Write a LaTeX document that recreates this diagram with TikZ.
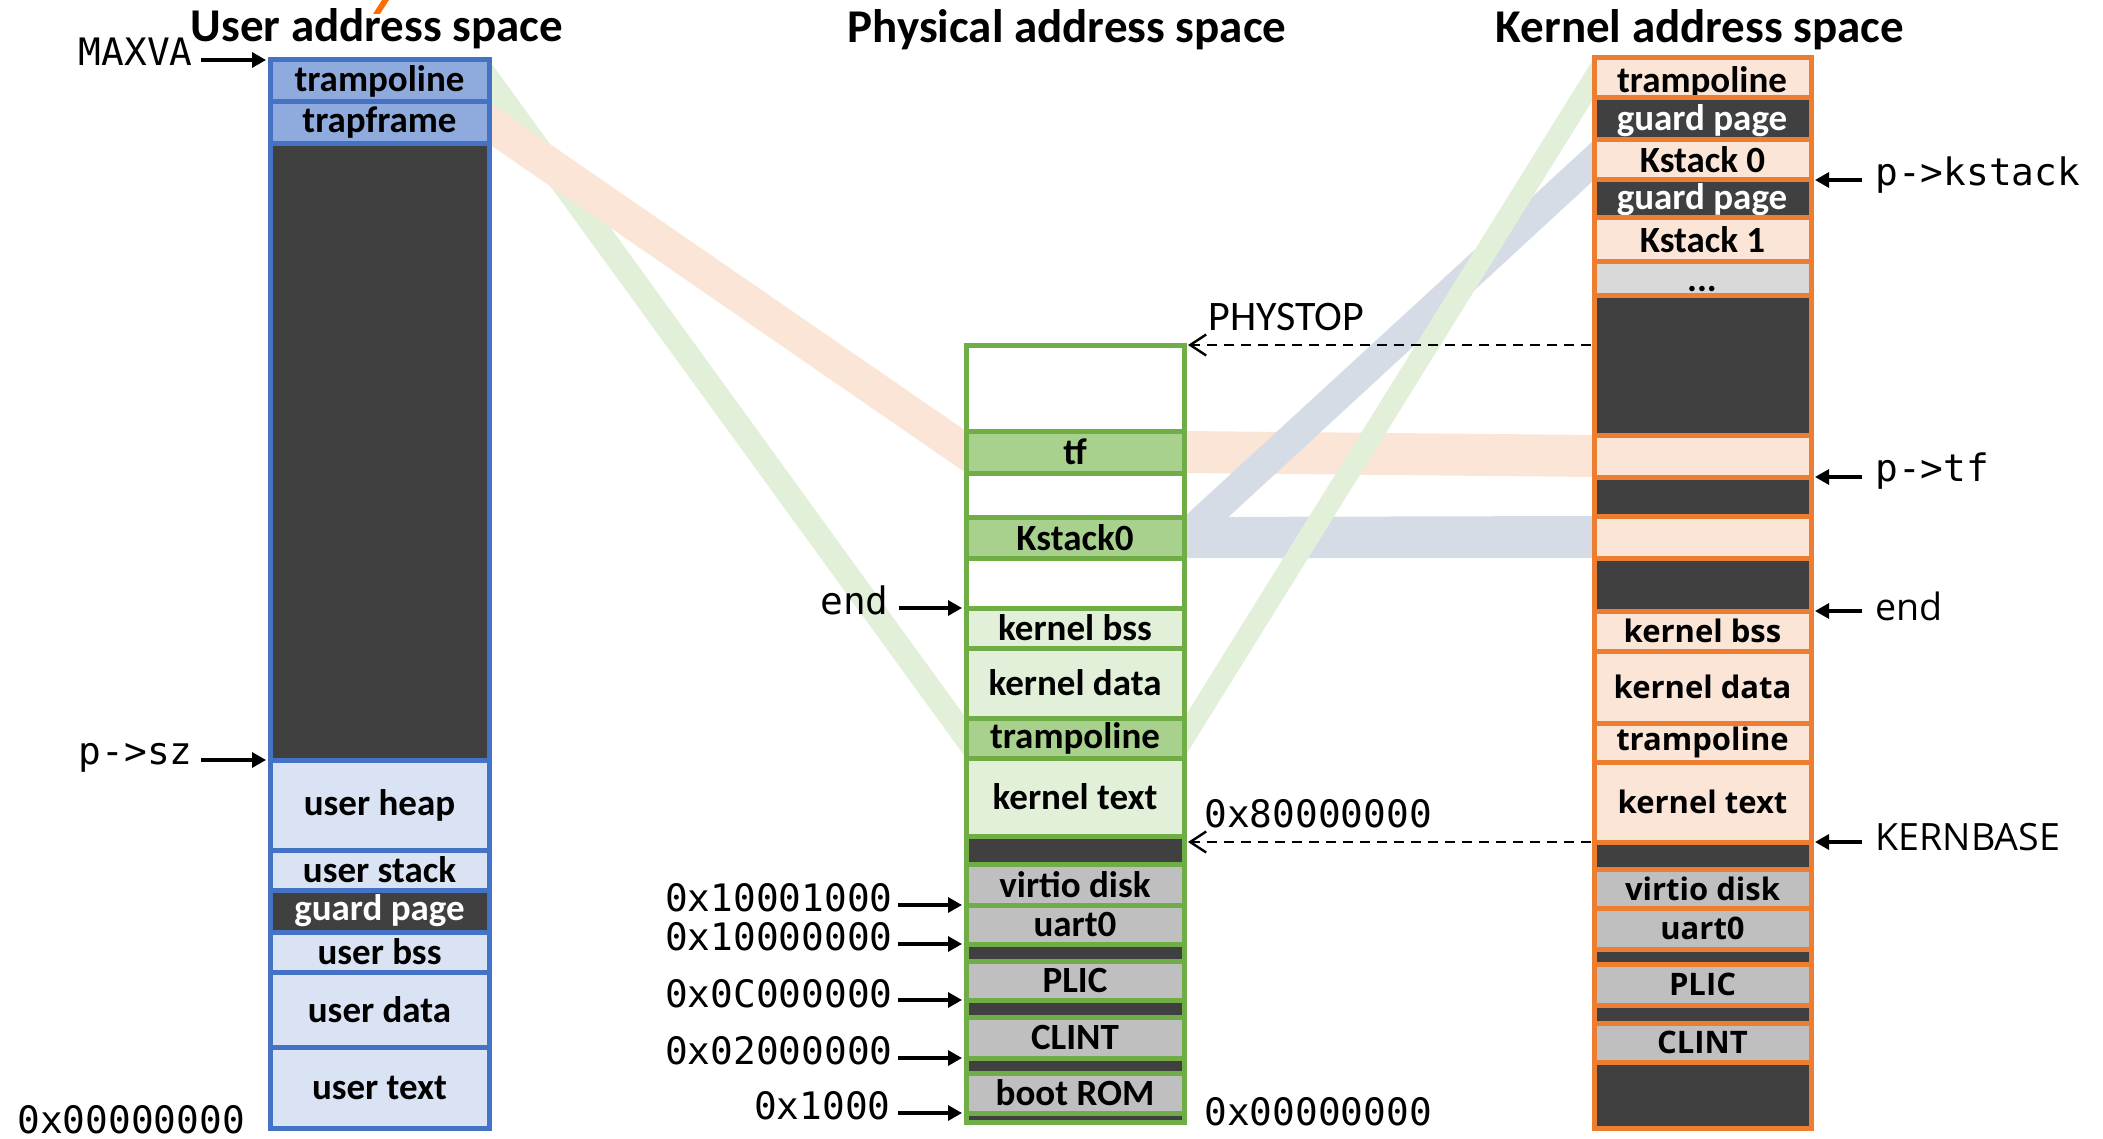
\documentclass[tikz,border=0pt]{standalone}
\usepackage{fontspec}
\setmainfont{Carlito}
\newfontfamily\fOpen{Open Sans}
\newfontfamily\fMono{DejaVu Sans Mono}
\usetikzlibrary{arrows.meta}
\pgfdeclarelayer{bg}
\pgfsetlayers{bg,main}
\definecolor{ublue}{HTML}{4472C4}
\definecolor{umid}{HTML}{8FAADC}
\definecolor{ulight}{HTML}{DAE3F3}
\definecolor{dark}{HTML}{404040}
\definecolor{pgreen}{HTML}{70AD47}
\definecolor{pmid}{HTML}{A9D18E}
\definecolor{plight}{HTML}{E2F0D9}
\definecolor{korange}{HTML}{ED7D31}
\definecolor{klight}{HTML}{FBE5D6}
\definecolor{gry}{HTML}{BFBFBF}
\definecolor{lgry}{HTML}{D9D9D9}
\definecolor{bandg}{HTML}{E2F0D9}
\definecolor{bando}{HTML}{FBE5D6}
\definecolor{bandb}{HTML}{D6DCE5}
\definecolor{markc}{HTML}{FA6E0A}
\newcommand\cellfnt{\fontsize{18.5pt}{20pt}\selectfont\bfseries}
\newcommand\kfnt{\fOpen\fontsize{15.5pt}{17pt}\selectfont\bfseries}
\newcommand\monofnt{\fMono\fontsize{18.9pt}{20pt}\selectfont}
\newcommand\openfnt{\fOpen\fontsize{18.8pt}{20pt}\selectfont}
\newcommand\titlefnt{\fontsize{23.5pt}{26pt}\selectfont\bfseries}
\newcommand\mcell[7]{%
 \pgfmathsetmacro\mcx{(#2+#3)/2}%
 \pgfmathsetmacro\mcy{(#4+#5)/2}%
 \pgfmathsetmacro\mcw{(#3-#2)*0.5}%
 \pgfmathsetmacro\mch{(#5-#4)*0.5}%
 \node[#6, minimum width=\mcw pt, minimum height=\mch pt] (#1) at (\mcx,\mcy) {#7};}
\newcommand\ucell[5]{\mcell{#1}{270}{489}{#2}{#3}{ucellst,#4}{#5}}
\newcommand\pcell[5]{\mcell{#1}{966}{1184}{#2}{#3}{pcellst,#4}{#5}}
\newcommand\kcell[5]{\mcell{#1}{1594}{1811}{#2}{#3}{kcellst,#4}{#5}}
\tikzset{
 cellbase/.style={inner sep=0pt, outer sep=0pt, line width=2.5pt, font=\cellfnt, text=black},
 ucellst/.style={cellbase, draw=ublue},
 pcellst/.style={cellbase, draw=pgreen},
 kcellst/.style={cellbase, draw=korange},
 osb/.style={font=\kfnt},
 mlab/.style={font=\monofnt, inner sep=0pt},
 olab/.style={font=\openfnt, inner sep=0pt},
 ttl/.style={font=\titlefnt, inner sep=0pt},
 ctext/.style={font=\cellfnt, inner sep=0pt, anchor=base},
 arr/.style={-{Triangle[length=7pt,width=7.5pt]}, line width=1.6pt},
 dasharr/.style={-{Straight Barb[length=8pt,width=10.5pt]}, line width=1.2pt, dash pattern=on 5pt off 3.5pt},
}
\begin{document}
\begin{tikzpicture}[x=0.5pt,y=-0.5pt]
\useasboundingbox (0,0) rectangle (2103,1139);
% titles
\node[ttl, anchor=base] (tuser) at (377,42) {User address space};
\node[ttl, anchor=base] (tphys) at (1067,43) {Physical address space};
\node[ttl, anchor=base] (tkern) at (1700,43) {Kernel address space};
\fill[markc] (382,0) -- (389,0) -- (380,14) -- (373,14) -- cycle;
% user column
\ucell{utramp}{60}{102}{fill=umid}{trampoline}
\ucell{utrapf}{102}{144}{fill=umid}{trapframe}
\ucell{ufree}{144}{760}{fill=dark}{}
\ucell{uheap}{760}{850}{fill=ulight}{user heap}
\ucell{ustack}{850}{890}{fill=ulight}{user stack}
\ucell{uguard}{890}{932}{fill=dark,text=white}{guard page}
\ucell{ubss}{932}{972}{fill=ulight}{user bss}
\ucell{udata}{972}{1047}{fill=ulight}{user data}
\ucell{utext}{1047}{1128}{fill=ulight}{user text}
% physical column
\pcell{pfree1}{345}{431}{fill=white}{}
\pcell{ptf}{431}{473}{fill=pmid}{tf}
\pcell{pfree2}{473}{517}{fill=white}{}
\pcell{pks}{517}{558}{fill=pmid}{Kstack0}
\pcell{pfree3}{558}{608}{fill=white}{}
\pcell{pbss}{608}{648}{fill=plight}{kernel bss}
\pcell{pdata}{648}{718}{fill=plight}{kernel data}
\pcell{ptramp}{718}{758}{fill=pmid}{trampoline}
\pcell{ptext}{758}{836}{fill=plight}{kernel text}
\pcell{pgap1}{836}{864}{fill=dark}{}
\pcell{pvirtio}{864}{905}{fill=gry}{virtio disk}
\pcell{puart}{905}{944}{fill=gry}{uart0}
\pcell{pgap2}{944}{961}{fill=dark}{}
\pcell{pplic}{961}{1000}{fill=gry}{PLIC}
\pcell{pgap3}{1000}{1017}{fill=dark}{}
\pcell{pclint}{1017}{1058}{fill=gry}{CLINT}
\pcell{pgap4}{1058}{1073}{fill=dark}{}
\pcell{pboot}{1073}{1113}{fill=gry}{boot ROM}
\pcell{pgap5}{1113}{1122}{fill=dark}{}
% kernel column
\kcell{ktrampT}{58}{98}{fill=klight}{}
\node[ctext] (ktrampTt) at (1702,93) {trampoline};
\kcell{kguard1}{98}{140}{fill=dark}{}
\node[ctext, text=white] (kguard1t) at (1702,131) {guard page};
\kcell{kks0}{140}{180}{fill=klight}{Kstack 0}
\kcell{kguard2}{180}{218}{fill=dark}{}
\node[ctext, text=white] (kguard2t) at (1702,210) {guard page};
\kcell{kks1}{218}{262}{fill=klight}{Kstack 1}
\kcell{kdots}{262}{295}{fill=lgry}{}
\node[ctext] (kdotst) at (1702,292) {...};
\kcell{kfree1}{295}{435}{fill=dark}{}
\kcell{ktf}{435}{477}{fill=klight}{}
\kcell{kfree2}{477}{516}{fill=dark}{}
\kcell{kks0m}{516}{558}{fill=klight}{}
\kcell{kfree3}{558}{611}{fill=dark}{}
\kcell{kbss}{611}{651}{fill=klight,osb}{kernel bss}
\kcell{kdata}{651}{723}{fill=klight,osb}{kernel data}
\kcell{ktramp}{723}{762}{fill=klight,osb}{trampoline}
\kcell{ktext}{762}{842}{fill=klight,osb}{kernel text}
\kcell{kgap1}{842}{869}{fill=dark}{}
\kcell{kvirtio}{869}{908}{fill=gry,osb}{virtio disk}
\kcell{kuart}{908}{949}{fill=gry,osb}{uart0}
\kcell{kgap2}{949}{964}{fill=dark}{}
\kcell{kplic}{964}{1005}{fill=gry,osb}{PLIC}
\kcell{kgap3}{1005}{1023}{fill=dark}{}
\kcell{kclint}{1023}{1062}{fill=gry,osb}{CLINT}
\kcell{kgap4}{1062}{1128}{fill=dark}{}
% bands
\begin{pgfonlayer}{bg}
\fill[bandg] (utramp.north east) -- (utramp.south east) -- (ptramp.south west) -- (ptramp.north west) -- cycle;
\fill[bando] (utrapf.north east) -- (utrapf.south east) -- (ptf.south west) -- (ptf.north west) -- cycle;
\fill[bando] (ptf.north east) -- (ptf.south east) -- (ktf.south west) -- (ktf.north west) -- cycle;
\fill[bandb] (pks.north east) -- (pks.south east) -- (kks0m.south west) -- (kks0m.north west) -- cycle;
\fill[bandb] (kks0.north west) -- (pks.north east) -- (pks.south east) -- (kks0.south west) -- cycle;
\fill[bandg] (ptramp.north east) -- (ptramp.south east) -- (ktrampT.south west) -- (ktrampT.north west) -- cycle;
\end{pgfonlayer}
% left labels
\node[mlab, anchor=mid east] (maxva) at (193,61) {MAXVA};
\node[mlab, anchor=mid east] (psz) at (193,760) {p->sz};
\node[mlab, anchor=base west] (u00) at (17,1133) {0x00000000};
\draw[arr, shorten <=4pt, shorten >=2pt] (maxva.east |- utramp.north west) -- (utramp.north west);
\draw[arr, shorten <=4pt, shorten >=2pt] (psz.east |- uheap.north west) -- (uheap.north west);
\node[mlab, anchor=mid east] (pend) at (889,610) {end};
\node[mlab, anchor=mid east] (a1) at (893,907) {0x10001000};
\node[mlab, anchor=mid east] (a2) at (893,946) {0x10000000};
\node[mlab, anchor=mid east] (a3) at (893,1003) {0x0C000000};
\node[mlab, anchor=mid east] (a4) at (893,1060) {0x02000000};
\node[mlab, anchor=mid east] (a5) at (891,1115) {0x1000};
\draw[arr, shorten >=2pt] ([xshift=5pt]pend.east |- pbss.north west) -- (pbss.north west);
\draw[arr, shorten >=2pt] ([xshift=2.5pt]a1.east |- puart.north west) -- (puart.north west);
\draw[arr, shorten >=2pt] ([xshift=2.5pt]a2.east |- puart.south west) -- (puart.south west);
\draw[arr, shorten >=2pt] ([xshift=2.5pt]a3.east |- pplic.south west) -- (pplic.south west);
\draw[arr, shorten >=2pt] ([xshift=2.5pt]a4.east |- pclint.south west) -- (pclint.south west);
\draw[arr, shorten >=2pt] ([xshift=3.5pt]a5.east |- pboot.south west) -- (pboot.south west);
% middle labels
\node[font=\fontsize{21pt}{23pt}\selectfont, inner sep=0pt, anchor=base west] (phystop) at (1208,330) {PHYSTOP};
\node[mlab, anchor=base west] (k80) at (1204,827) {0x80000000};
\node[mlab, anchor=base west] (p00) at (1204,1125) {0x00000000};
\draw[dasharr, shorten <=1.5pt, shorten >=2pt] (kfree1.west |- pfree1.north east) -- (pfree1.north east);
\draw[dasharr, shorten <=1.5pt, shorten >=2pt] (ktext.south west) -- (ptext.east |- ktext.south west);
% right labels
\node[mlab, anchor=mid west] (pkstack) at (1875,181) {p->kstack};
\node[mlab, anchor=mid west] (ptfl) at (1875,477) {p->tf};
\node[olab, anchor=mid west] (kend) at (1875,616) {end};
\node[olab, anchor=mid west] (kbase) at (1875,846) {KERNBASE};
\draw[arr, shorten <=6.5pt, shorten >=2pt] (pkstack.west |- kks0.south east) -- (kks0.south east);
\draw[arr, shorten <=6.5pt, shorten >=2pt] (ptfl.west |- ktf.south east) -- (ktf.south east);
\draw[arr, shorten <=6.5pt, shorten >=2pt] (kend.west |- kbss.north east) -- (kbss.north east);
\draw[arr, shorten <=6.5pt, shorten >=2pt] (kbase.west |- ktext.south east) -- (ktext.south east);
\end{tikzpicture}
\end{document}
